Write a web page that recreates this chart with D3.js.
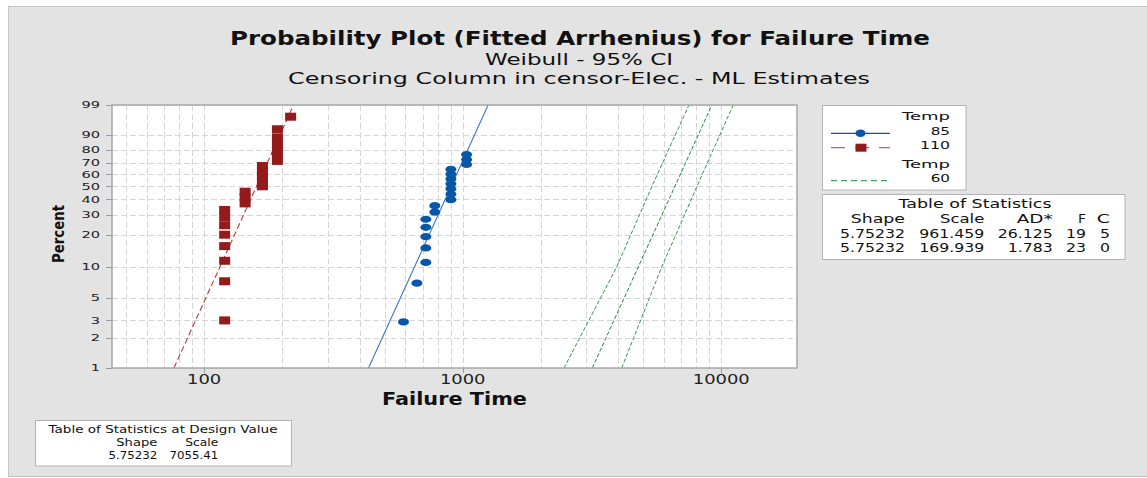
<!DOCTYPE html>
<html><head><meta charset="utf-8">
<script src="https://cdn.jsdelivr.net/npm/d3@7/dist/d3.min.js"></script>
<style>body{margin:0;background:#fff}svg{display:block}</style>
</head><body>
<svg id="c" width="1147" height="478"></svg>
<script>
// ---------- data ----------
const time85 = [590,665,720,720,720,720,720,780,780,900,900,900,900,900,900,900,1035,1035,1035];
const pct85  = [2.9,7.0,11.1,15.2,19.3,23.4,27.5,31.6,35.7,39.8,43.9,48.0,52.0,56.1,60.2,64.3,68.4,72.5,76.6];
const time110 = [120,120,120,120,120,120,120,120,144,144,144,168,168,168,168,168,192,192,192,192,192,192,216];
const pct110  = [3.0,7.3,11.5,15.8,20.1,24.4,28.6,32.9,37.2,41.5,45.7,50.0,54.3,58.5,62.8,67.1,71.4,75.6,79.9,84.2,88.5,92.7,97.0];
const fitShape = 5.75232;
const fitScale85 = 961.459, fitScale110 = 169.939, fitScale60 = 7055.41;
const ciPct = [1, 10, 50, 99];
const ci60Lower = [2464, 3938, 5395, 7496];
const ci60Upper = [4119, 5882, 8054, 11120];
const yTicks = [1,2,3,5,10,20,30,40,50,60,70,80,90,99];
const xTicks = [100,1000,10000];
const xGrid = [50,60,70,80,90,100,200,300,400,500,600,700,800,900,1000,2000,3000,4000,5000,6000,7000,8000,9000,10000];
const statsHeader = ["Shape","Scale","AD*","F","C"];
const statsRows = [["5.75232","961.459","26.125","19","5"],["5.75232","169.939","1.783","23","0"]];
const designHeader = ["Shape","Scale"];
const designRow = ["5.75232","7055.41"];

// ---------- setup ----------
const svg = d3.select("#c");
const L = 112, R = 797, Tp = 105, B = 368;
const x = d3.scaleLog().domain([44, 19630]).range([L, R]);
const wb = p => Math.log(-Math.log(1 - p / 100));
const ys = d3.scaleLinear().domain([wb(1), wb(99)]).range([B, Tp]);
const y = p => ys(wb(p));

function T(parent, str, px, py, o) {
  const t = parent.append("text").attr("x", px).attr("y", py).text(str)
    .attr("font-family", o.f || "DejaVu Sans").attr("font-size", o.s)
    .attr("text-anchor", o.a || "start").attr("font-weight", o.w || "normal")
    .attr("fill", o.c || "#111");
  if (o.len) t.attr("textLength", o.len).attr("lengthAdjust", "spacingAndGlyphs");
  return t;
}
const numW = (s, dw, pw) => [...s].reduce((a, ch) => a + (ch === "." ? pw : dw), 0);

// panel
svg.append("rect").attr("x", 8.5).attr("y", 6.5).attr("width", 1150).attr("height", 470)
  .attr("fill", "#e3e3e3").attr("stroke", "#c6c6c6");

// titles
T(svg, "Probability Plot (Fitted Arrhenius) for Failure Time", 580, 45, {s:20, w:"bold", a:"middle", len:700});
T(svg, "Weibull - 95% CI", 579, 64.5, {s:15.5, a:"middle", len:188});
T(svg, "Censoring Column in censor-Elec. - ML Estimates", 579, 84, {s:15.5, a:"middle", len:582});

// plot area
svg.append("rect").attr("x", L).attr("y", Tp).attr("width", R - L).attr("height", B - Tp).attr("fill", "#fff");
svg.append("clipPath").attr("id", "cp").append("rect").attr("x", L).attr("y", Tp).attr("width", R - L).attr("height", B - Tp);

const grid = svg.append("g").attr("stroke", "#d6d6d6").attr("stroke-width", 1).attr("stroke-dasharray", "6,3");
grid.selectAll("line.v").data(xGrid).join("line")
  .attr("x1", d => Math.round(x(d)) + 0.5).attr("x2", d => Math.round(x(d)) + 0.5).attr("y1", Tp).attr("y2", B);
grid.selectAll("line.h").data(yTicks).join("line")
  .attr("x1", L).attr("x2", R).attr("y1", d => Math.round(y(d)) + 0.5).attr("y2", d => Math.round(y(d)) + 0.5);

// axes ticks
const ax = svg.append("g").attr("stroke", "#9a9a9a").attr("stroke-width", 1);
ax.selectAll("line.yt").data(yTicks).join("line")
  .attr("x1", L - 6).attr("x2", L).attr("y1", d => Math.round(y(d)) + 0.5).attr("y2", d => Math.round(y(d)) + 0.5);
ax.selectAll("line.xt").data(xTicks).join("line")
  .attr("x1", d => Math.round(x(d)) + 0.5).attr("x2", d => Math.round(x(d)) + 0.5).attr("y1", B).attr("y2", B + 5);

yTicks.forEach(d => T(svg, String(d), 100, y(d) + 3.3, {s:9, a:"end", len:String(d).length * 9.3, c:"#222"}));
xTicks.forEach(d => T(svg, String(d), x(d), 384, {s:14, a:"middle", len:String(d).length * 11.4, c:"#222"}));

T(svg, "Failure Time", 454.5, 405, {s:17, w:"bold", a:"middle", len:145});
T(svg, "Percent", 0, 0, {s:16, w:"bold", a:"middle", len:58}).attr("transform", "translate(64,234) rotate(-90)");

// lines
const plot = svg.append("g").attr("clip-path", "url(#cp)");
const line = d3.line().x(d => x(d.t)).y(d => y(d.p));
const fitPts = sc => [1, 99].map(p => ({p, t: sc * Math.pow(-Math.log(1 - p / 100), 1 / fitShape)}));

plot.append("path").attr("d", line(ciPct.map((p, i) => ({p, t: ci60Lower[i]}))))
  .attr("fill", "none").attr("stroke", "#2e9a4c").attr("stroke-width", 1).attr("stroke-dasharray", "4,2");
plot.append("path").attr("d", line(ciPct.map((p, i) => ({p, t: ci60Upper[i]}))))
  .attr("fill", "none").attr("stroke", "#2e9a4c").attr("stroke-width", 1).attr("stroke-dasharray", "4,2");
plot.append("path").attr("d", line(fitPts(fitScale60)))
  .attr("fill", "none").attr("stroke", "#1d8a3c").attr("stroke-width", 1).attr("stroke-dasharray", "4,2");
plot.append("path").attr("d", line(fitPts(fitScale85)))
  .attr("fill", "none").attr("stroke", "#3a78c0").attr("stroke-width", 1.1);
plot.append("path").attr("d", line(fitPts(fitScale110)))
  .attr("fill", "none").attr("stroke", "#b83c3c").attr("stroke-width", 1.1).attr("stroke-dasharray", "6,3");

// points
plot.selectAll("rect.p110").data(time110.map((t, i) => ({t, p: pct110[i]}))).join("rect")
  .attr("x", d => x(d.t) - 5.5).attr("y", d => y(d.p) - 4).attr("width", 11).attr("height", 8)
  .attr("fill", "#951a1c");
plot.selectAll("ellipse.p85").data(time85.map((t, i) => ({t, p: pct85[i]}))).join("ellipse")
  .attr("cx", d => x(d.t)).attr("cy", d => y(d.p)).attr("rx", 5.5).attr("ry", 3.6)
  .attr("fill", "#0756a8");

// frame
svg.append("rect").attr("x", L).attr("y", Tp).attr("width", R - L).attr("height", B - Tp)
  .attr("fill", "none").attr("stroke", "#a8a8a8").attr("stroke-width", 1.5);

// legend
const lg = svg.append("g");
lg.append("rect").attr("x", 822.5).attr("y", 105.5).attr("width", 143.5).attr("height", 84.5)
  .attr("fill", "#fff").attr("stroke", "#b4b4b4");
const lfs = 11.3;
T(lg, "Temp", 950, 120, {s:lfs, a:"end", len:48});
T(lg, "85", 950, 134.6, {s:lfs, a:"end", len:19.3});
T(lg, "110", 950, 148.5, {s:lfs, a:"end", len:30});
T(lg, "Temp", 950, 167.7, {s:lfs, a:"end", len:48});
T(lg, "60", 950, 182.3, {s:lfs, a:"end", len:19.3});
lg.append("line").attr("x1", 831).attr("x2", 890).attr("y1", 133.3).attr("y2", 133.3).attr("stroke", "#0756a8").attr("stroke-width", 1.2);
lg.append("ellipse").attr("cx", 860.5).attr("cy", 133.3).attr("rx", 5).attr("ry", 3.8).attr("fill", "#0756a8");
lg.append("line").attr("x1", 831).attr("x2", 890).attr("y1", 147.7).attr("y2", 147.7).attr("stroke", "#c06060").attr("stroke-width", 1.2).attr("stroke-dasharray", "14,10");
lg.append("rect").attr("x", 855.5).attr("y", 143.7).attr("width", 11).attr("height", 8).attr("fill", "#951a1c");
lg.append("line").attr("x1", 831).attr("x2", 890).attr("y1", 180.7).attr("y2", 180.7).attr("stroke", "#1d8a3c").attr("stroke-width", 1).attr("stroke-dasharray", "6,4");

// table of statistics
const st = svg.append("g");
st.append("rect").attr("x", 822.5).attr("y", 194.5).attr("width", 302.5).attr("height", 65)
  .attr("fill", "#fff").attr("stroke", "#b4b4b4");
const tfs = 11.4;
T(st, "Table of Statistics", 975, 208.3, {s:tfs, a:"middle", len:153});
const colR = [905, 984.3, 1052.7, 1086, 1110];
const hdrW = [54.3, 44.3, 36, 8, 13.3];
statsHeader.forEach((h, i) => T(st, h, colR[i], 223, {s:tfs, a:"end", len:hdrW[i]}));
statsRows.forEach((row, r) => row.forEach((v, i) =>
  T(st, v, colR[i], 238 + r * 13.6, {s:tfs, a:"end", len:numW(v, 10, 5)})));

// design value table
const dt = svg.append("g");
dt.append("rect").attr("x", 35.5).attr("y", 420.5).attr("width", 256).attr("height", 45.5)
  .attr("fill", "#fff").attr("stroke", "#b4b4b4");
T(dt, "Table of Statistics at Design Value", 163, 433.3, {s:10, a:"middle", len:229});
const dColR = [157.3, 218.3];
const dHdrW = [41, 33];
designHeader.forEach((h, i) => T(dt, h, dColR[i], 446, {s:10, a:"end", len:dHdrW[i]}));
designRow.forEach((v, i) => T(dt, v, dColR[i], 459, {s:10, a:"end", len:numW(v, 7.4, 4.3)}));
</script>
</body></html>
